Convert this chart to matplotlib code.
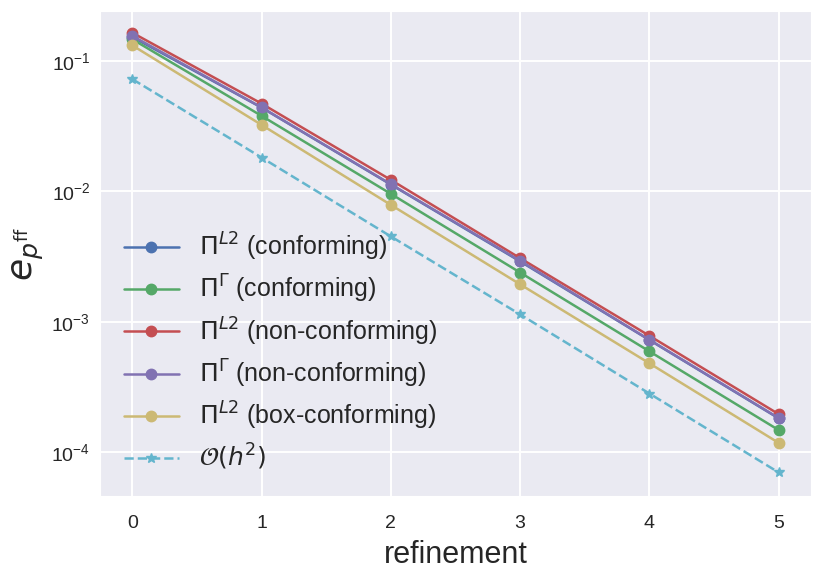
import matplotlib
matplotlib.use('Agg')
import matplotlib.pyplot as plt
import seaborn as sns

sns.set_style('darkgrid')
plt.rcParams['font.family'] = ['Liberation Sans', 'DejaVu Sans']
plt.rcParams['mathtext.fontset'] = 'dejavusans'
plt.rcParams['grid.linewidth'] = 1.4

# data
refinement = [0, 1, 2, 3, 4, 5]
l2_conf = [0.153, 0.0440, 0.0113, 0.00291, 7.26e-4, 1.82e-4]
gamma_conf = [0.147, 0.0380, 0.00959, 0.00239, 5.94e-4, 1.48e-4]
l2_nonconf = [0.165, 0.0472, 0.01227, 0.00308, 7.82e-4, 1.96e-4]
gamma_nonconf = [0.156, 0.0441, 0.01137, 0.00294, 7.29e-4, 1.83e-4]
l2_box = [0.132, 0.0324, 0.00789, 0.00194, 4.81e-4, 1.18e-4]
order_h2 = [0.0727, 0.0182, 0.00452, 0.00114, 2.82e-4, 7.0e-5]

labels = [r'$\Pi^{L2}$ (conforming)', r'$\Pi^{\Gamma}$ (conforming)',
          r'$\Pi^{L2}$ (non-conforming)', r'$\Pi^{\Gamma}$ (non-conforming)',
          r'$\Pi^{L2}$ (box-conforming)']
colors = ['#4C72B0', '#55A868', '#C44E52', '#8172B2', '#CCB974']
series = [l2_conf, gamma_conf, l2_nonconf, gamma_nonconf, l2_box]

fig, ax = plt.subplots(figsize=(8.22, 5.74), dpi=100)
fig.subplots_adjust(left=0.1217, right=0.9866, top=0.981, bottom=0.136)

for vals, lab, c in zip(series, labels, colors):
    ax.plot(refinement, vals, '-o', color=c, label=lab, linewidth=1.8, markersize=7.5)
ax.plot(refinement, order_h2, '--*', color='#64B5CD', label=r'$\mathcal{O}(h^2)$',
        linewidth=1.8, markersize=7.5)

ax.set_yscale('log')
ax.set_xlim(-0.25, 5.25)
ax.set_ylim(10 ** -4.335, 10 ** -0.615)
ax.tick_params(axis='both', labelsize=14)
ax.tick_params(axis='x', pad=10)
ax.set_xlabel('refinement', fontsize=22, labelpad=6)
ax.set_ylabel(r'$e_{p^{\mathrm{ff}}}$', fontsize=26)
ax.legend(loc='lower left', fontsize=18, frameon=False, borderaxespad=0.55,
          handlelength=2.2, labelspacing=0.4)

fig.savefig('out.png', dpi=100)
